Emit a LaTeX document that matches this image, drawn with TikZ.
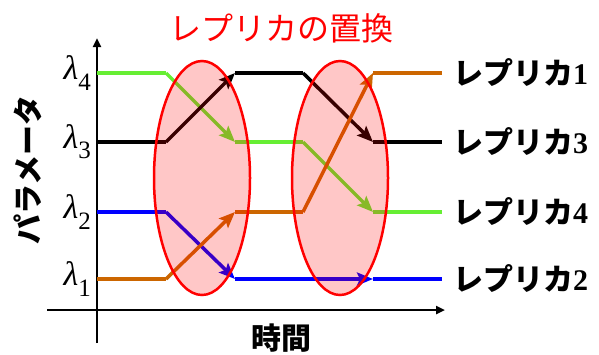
\documentclass[tikz,border=0pt]{standalone}
\usepackage{fontspec}
\setmainfont{Liberation Serif}
\newfontfamily\jp{Noto Sans CJK JP}
\usetikzlibrary{arrows.meta}
\definecolor{repgreen}{HTML}{66EE33}
\definecolor{repblue}{HTML}{0000FF}
\definecolor{reporange}{HTML}{CC6600}
\newcommand{\lvl}[1]{\textit{λ}\raisebox{-0.3em}{\fontsize{25}{25}\selectfont #1}}

\begin{document}
\begin{tikzpicture}[
  x=1pt, y=-1pt,
  rline/.style={line width=3.5pt},
  swap/.style={rline, -{Stealth[length=16pt, width=13pt, inset=3pt]}},
  axis/.style={line width=2.5pt, -{Triangle[length=9pt, width=8pt]}},
  ellip/.style={draw=red, line width=2.5pt, fill=red, fill opacity=0.22},
  lam/.style={anchor=east, inner sep=1pt, font=\fontsize{34}{34}\selectfont},
  rep/.style={anchor=west, inner sep=0pt, font=\jp\bfseries\fontsize{30}{30}\selectfont},
]
\useasboundingbox (0,0) rectangle (599,354);

% grid of time steps and levels
\foreach \t/\x in {0/97,1/166,2/235,3/303,4/373,5/442}
  \foreach \k/\y in {1/279,2/212,3/142,4/73}
    \coordinate (p\t\k) at (\x,\y);

% axes
\coordinate (ybot) at (97,343);
\coordinate (ytop) at (97,38);
\coordinate (xleft) at (47,310);
\coordinate (xright) at (445,310);
\draw[axis] (ybot) -- (ytop);
\draw[axis] (xleft) -- (xright);

% replicas
\draw[rline, repgreen] (p04) -- (p14);
\draw[swap, repgreen] (p14) -- (p23);
\draw[rline, repgreen] (p23) -- (p33);
\draw[swap, repgreen] (p33) -- (p42);
\draw[rline, repgreen] (p42) -- (p52);

\draw[rline, black] (p03) -- (p13);
\draw[swap, black] (p13) -- (p24);
\draw[rline, black] (p24) -- (p34);
\draw[swap, black] (p34) -- (p43);
\draw[rline, black] (p43) -- (p53);

\draw[rline, repblue] (p02) -- (p12);
\draw[swap, repblue] (p12) -- (p21);
\draw[rline, repblue] (p21) -- (p31);
\draw[swap, repblue] (p31) -- (p41);
\draw[rline, repblue] (p41) -- (p51);

\draw[rline, reporange] (p01) -- (p11);
\draw[swap, reporange] (p11) -- (p22);
\draw[rline, reporange] (p22) -- (p32);
\draw[swap, reporange] (p32) -- (p44);
\draw[rline, reporange] (p44) -- (p54);

% exchange regions
\coordinate (swapA) at (202,178);
\coordinate (swapB) at (340,178);
\draw[ellip] (swapA) ellipse [x radius=48, y radius=117];
\draw[ellip] (swapB) ellipse [x radius=48, y radius=117];

% labels
\node[lam] (lam4) at (92,73) {\lvl{4}};
\node[lam] (lam3) at (92,142) {\lvl{3}};
\node[lam] (lam2) at (92,212) {\lvl{2}};
\node[lam] (lam1) at (92,279) {\lvl{1}};

\node[rep] (rep1) at (453,73) {レプリカ{\rmfamily 1}};
\node[rep] (rep3) at (453,142) {レプリカ{\rmfamily 3}};
\node[rep] (rep4) at (453,212) {レプリカ{\rmfamily 4}};
\node[rep] (rep2) at (453,279) {レプリカ{\rmfamily 2}};

\node[text=red, font=\jp\fontsize{32}{32}\selectfont] (title) at (281,28) {レプリカの置換};
\node[font=\jp\bfseries\fontsize{30}{30}\selectfont] (time) at (281,338) {時間};
\node[rotate=90, font=\jp\bfseries\fontsize{30}{30}\selectfont] (param) at (28,170) {パラメータ};
\end{tikzpicture}
\end{document}
